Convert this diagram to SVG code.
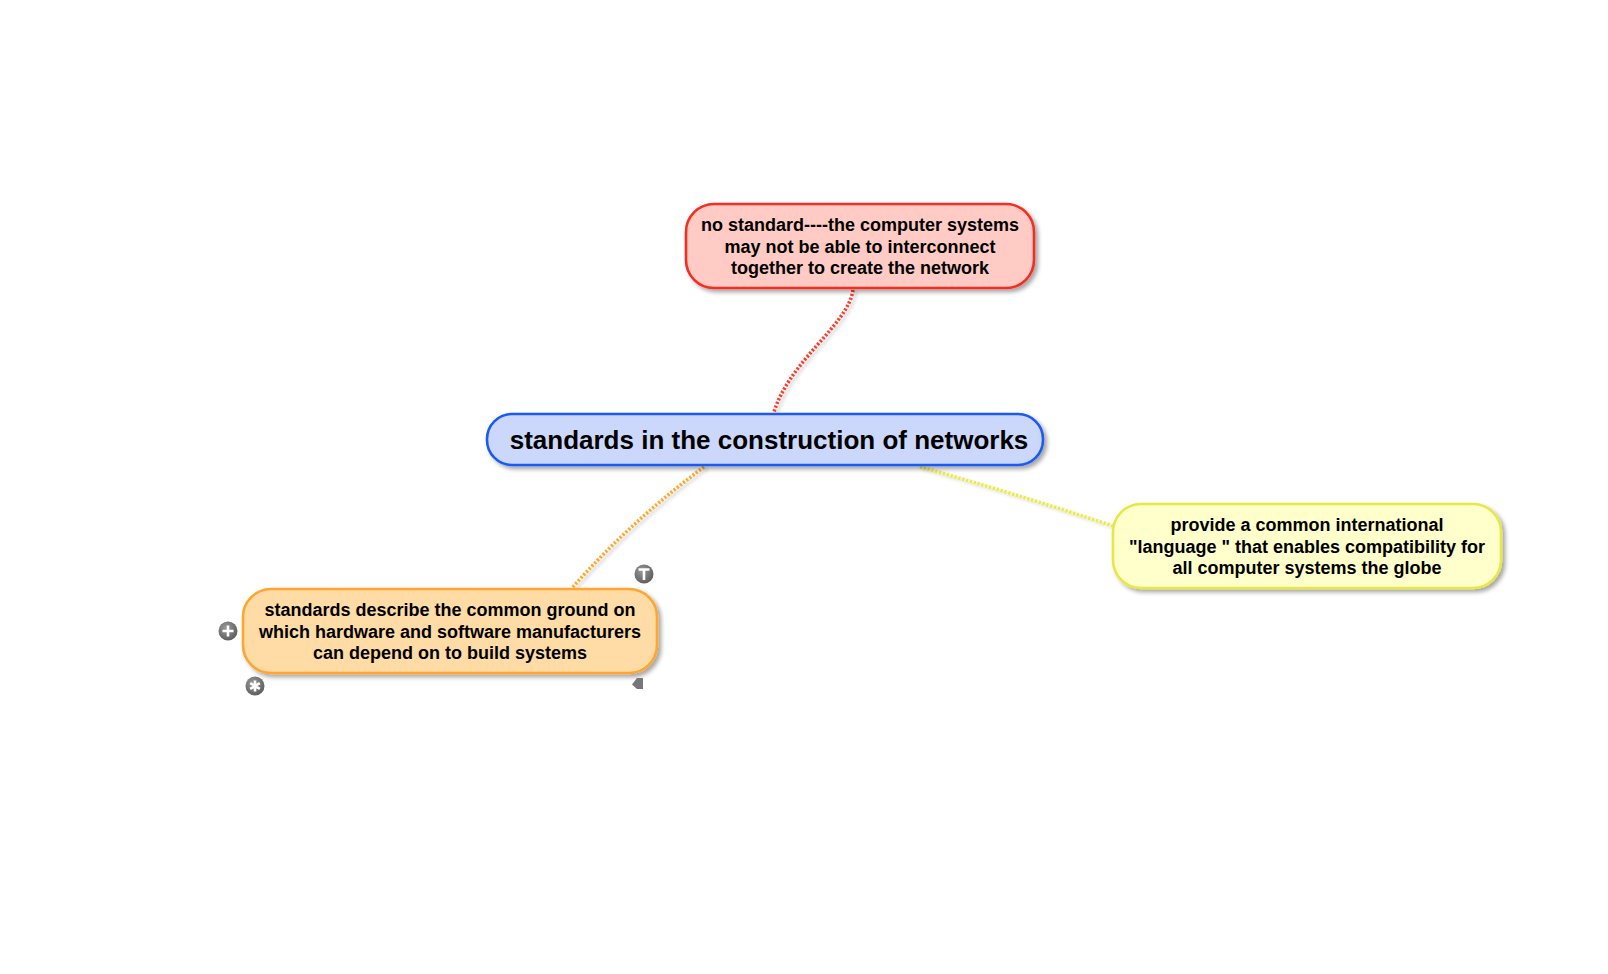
<svg xmlns="http://www.w3.org/2000/svg" width="1608" height="974" viewBox="0 0 1608 974">
<defs>
<filter id="sh" x="-10%" y="-20%" width="130%" height="150%">
<feDropShadow dx="3" dy="3" stdDeviation="2" flood-color="#000" flood-opacity="0.35"/>
</filter>
<filter id="lsh" x="-20%" y="-20%" width="140%" height="140%">
<feDropShadow dx="3" dy="2" stdDeviation="1.5" flood-color="#000" flood-opacity="0.2"/>
</filter>
<radialGradient id="ig" cx="40%" cy="35%" r="70%">
<stop offset="0" stop-color="#9a9a9a"/>
<stop offset="1" stop-color="#5a5a5a"/>
</radialGradient>
</defs>
<style>
text{font-family:"Liberation Sans",Arial,sans-serif;font-weight:bold;fill:#000;text-anchor:middle}
.t18{font-size:18px}
.t26{font-size:26px}
.node{stroke-width:2.6}
.con{fill:none;stroke-width:3.6;stroke-dasharray:2.2 1.8;filter:url(#lsh)}
.ic{fill:url(#ig)}
.sym{stroke:#fff;stroke-width:2.6;fill:none;stroke-linecap:butt}
</style>
<rect width="1608" height="974" fill="#fff"/>
<g id="connectors">
<path class="con" stroke="#ff3a2a" d="M853,290 C848,325 790,360 774,412"/>
<path class="con" stroke="#ffa830" d="M704,467 Q632,520 572,588"/>
<path class="con" stroke="#ecec38" d="M920,467 Q1010,492 1113,526"/>
</g>
<g id="center">
<rect class="node" x="487" y="414" width="556" height="51" rx="25" fill="#ccd8fb" stroke="#1a5af5" filter="url(#sh)"/>
<text class="t26" x="769" y="449">standards in the construction of networks</text>
</g>
<g id="red">
<rect class="node" x="686" y="204" width="348" height="84" rx="28" fill="#ffcbc4" stroke="#f52d22" filter="url(#sh)"/>
<text class="t18" x="860" y="231">no standard----the computer systems</text>
<text class="t18" x="860" y="252.5">may not be able to interconnect</text>
<text class="t18" x="860" y="274">together to create the network</text>
</g>
<g id="yellow">
<rect class="node" x="1113" y="504" width="388" height="84" rx="28" fill="#ffffcc" stroke="#e8e845" filter="url(#sh)"/>
<text class="t18" x="1307" y="531">provide a common international</text>
<text class="t18" x="1307" y="552.5">"language " that enables compatibility for</text>
<text class="t18" x="1307" y="574">all computer systems the globe</text>
</g>
<g id="orange">
<rect class="node" x="243" y="589" width="414" height="84" rx="28" fill="#ffdba6" stroke="#ffa530" filter="url(#sh)"/>
<text class="t18" x="450" y="616">standards describe the common ground on</text>
<text class="t18" x="450" y="637.5">which hardware and software manufacturers</text>
<text class="t18" x="450" y="659">can depend on to build systems</text>
</g>
<g id="icons">
<circle class="ic" cx="644" cy="574" r="9.5"/>
<path class="sym" d="M638.5,569.5 H649.5 M644,569.5 V580"/>
<circle class="ic" cx="228" cy="631" r="9.5"/>
<path class="sym" d="M222.5,631 H233.5 M228,625.5 V636.5"/>
<circle class="ic" cx="255" cy="686" r="9.5"/>
<path class="sym" stroke-width="2" d="M255,680.5 V691.5 M250.2,683.2 L259.8,688.8 M250.2,688.8 L259.8,683.2"/>
<path fill="#777" d="M643,678 V689 H637 L632,684.5 L637,678 Z"/>
</g>
</svg>
